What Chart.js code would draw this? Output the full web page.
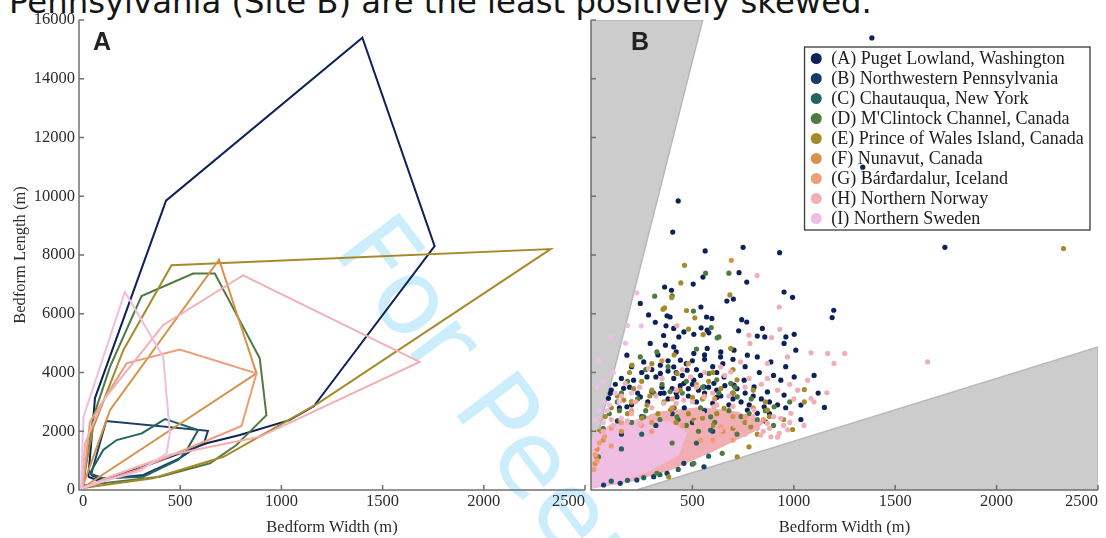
<!DOCTYPE html>
<html>
<head>
<meta charset="utf-8">
<script src="https://cdn.jsdelivr.net/npm/chart.js@4.4.1/dist/chart.umd.min.js"></script>
<style>
  html, body { margin: 0; padding: 0; background: #fff; }
  body { position: relative; width: 1106px; height: 538px; overflow: hidden; }
  #caption { position: absolute; left: 9px; top: -14px; font: 32.3px "DejaVu Sans", sans-serif; line-height: 32.3px; color: #151515; white-space: nowrap; }
  #stamp { position: absolute; left: 331px; top: 162px; font: 105px "DejaVu Sans", sans-serif; line-height: 105px; color: #cbedfc; white-space: nowrap; transform-origin: 0 89px; transform: rotate(53deg); }
  canvas { position: absolute; top: 0; }
  #chartA { left: 0; }
  #chartB { left: 585px; }
  .tag { position: absolute; top: 29px; font: bold 25px "Liberation Sans", Arial, sans-serif; line-height: 25px; color: #222; }
</style>
</head>
<body>
<div id="stamp">For Peer Review</div>
<div id="caption">Pennsylvania (Site B) are the least positively skewed.</div>
<canvas id="chartA" width="600" height="538"></canvas>
<canvas id="chartB" width="521" height="538"></canvas>
<div class="tag" style="left:93px">A</div>
<div class="tag" style="left:631px">B</div>
<script>
'use strict'

// site names + colours (legend order)
const siteNames = [
  '(A) Puget Lowland, Washington',
  '(B) Northwestern Pennsylvania',
  '(C) Chautauqua, New York',
  "(D) M'Clintock Channel, Canada",
  '(E) Prince of Wales Island, Canada',
  '(F) Nunavut, Canada',
  '(G) Bárđardalur, Iceland',
  '(H) Northern Norway',
  '(I) Northern Sweden'
]
const siteColors = ['#0d2259', '#163d69', '#24645f', '#4f7a41', '#a58a2b', '#d8924a', '#ef9c78', '#f2aeb5', '#f0bde3']

const widthTicks = [0, 500, 1000, 1500, 2000, 2500]
const lengthTicks = [0, 2000, 4000, 6000, 8000, 10000, 12000, 14000, 16000]

// panel A: envelope of each site, [width, length] in m
const hullPuget = [[46,450],[79,3130],[430,9850],[1400,15400],[1757,8300],[1160,2850],[1040,2380],[795,1870],[630,1590],[499,1250],[317,790],[153,400],[87,340],[46,450]]
const hullPenn = [[59,510],[134,2346],[637,2016],[620,1643],[497,1077],[318,510],[109,363],[59,510]]
const hullChaut = [[54,567],[120,1360],[186,1700],[310,1928],[425,2414],[589,2040],[532,1360],[490,1020],[317,452],[120,398],[54,567]]
const hullMclintock = [[20,150],[71,2490],[153,4190],[309,6600],[564,7370],[671,7370],[893,4480],[926,2550],[778,1530],[647,910],[400,450],[20,150]]
const hullPrince = [[10,60],[71,2150],[219,4760],[457,7650],[2330,8200],[1181,2950],[714,1130],[366,400],[10,60]]
const hullNunavut = [[15,60],[153,2720],[692,7840],[877,3970],[15,60]]
const hullBard = [[18,70],[54,2320],[235,4310],[498,4780],[877,3970],[803,2180],[285,680],[18,70]]
const hullNorway = [[15,60],[30,1590],[120,3060],[318,4760],[415,5610],[811,7310],[1683,4360],[1140,2610],[893,1810],[449,1190],[153,450],[15,60]]
const hullSweden = [[10,50],[22,2490],[227,6740],[416,4530],[449,1930],[433,1250],[300,640],[120,300],[10,50]]

// panel B: individual bedforms, [width, length] in m
const ptsPuget = [[1385,15390],[1340,10990],[1745,8260],[430,9840],[403,8780],[563,8140],[750,8260],[930,8080],[730,7400],[768,7080],[552,7250],[504,7010],[363,6910],[397,6800],[243,6350],[284,5960],[317,5710],[375,5930],[390,5890],[370,5590],[542,6230],[570,5890],[596,5840],[670,6430],[702,6500],[952,6740],[994,6560],[1197,6120],[1189,5870],[743,5800],[768,5720],[543,5520],[573,5440],[728,5420],[845,5500],[820,5240],[857,5210],[1002,5300],[458,5380],[408,5500],[358,5260],[507,5300],[581,5350],
  [292,4990],[367,4930],[408,4870],[433,5210],[177,4590],[260,4360],[342,4250],[441,4420],[507,4650],[573,4820],[639,4530],[705,4760],[771,4590],[820,4530],[887,4360],[952,4990],[1010,4760],[961,5210],[86,3120],[95,3290],[161,3460],[210,3740],[276,3850],[342,3970],[408,3800],[458,3630],[507,3740],[557,3510],[606,3630],[656,3850],[705,3570],[755,3740],[804,3510],[870,3340],[936,3740],[1002,3850],[952,3230],[1035,2890],[1035,2400],[1151,2810],[820,2610],[854,2830],[771,2720],[424,3170],[342,3290],[243,3170],[177,2830],[474,4080],[408,4190],
  [330,4600],[380,4400],[420,4700],[470,4300],[520,4100],[560,4450],[600,4200],[450,3900],[380,4050],[300,4100],[540,3900],[620,4000],[650,4300],[350,3500],[480,3450],[420,3300],[560,3300],[640,3200],[700,3300],[740,3000],[680,2900],[600,2950],[520,3000],[460,2800],
  [120,3600],[190,3500],[230,3300],[300,3350],[360,3300],[400,3450],[440,3550],[500,3600],[530,3400],[580,3500],[620,3400],[660,3550],[720,3450],[760,3300],[800,3200],[840,3100],[880,3000],[920,2900],[960,2800],[880,2600],[780,2900],[700,3100],[620,3150],[480,3200],[380,3100],[280,3000],[200,2900],[140,2800],[320,3850],[420,4000],[500,4400],[560,4600],[640,4700],[700,4450],[760,4200],[830,4000],[900,3900],[960,4200],[1100,3900],[1120,3300],[250,4000],[200,4200],[150,3800],[100,3400]]
const ptsPenn = [[62,170],[144,228],[226,340],[309,452],[375,568],[458,908],[557,792],[130,2350],[600,2000],[250,2500],[320,2200],[500,2300],[400,2600],[560,2700],[150,1900]]
const ptsChaut = [[100,300],[180,330],[260,420],[340,520],[430,700],[500,880],[580,1150],[520,1600],[430,2400],[250,1900],[150,1400],[590,2040]]
const ptsMclintock = [[565,7380],[680,7380],[314,6600],[400,6610],[505,6090],[593,5530],[622,5180],[243,4530],[325,4700],[631,5210],[581,3970],[689,3630],[721,3170],[260,2490],[424,2490],[590,2490],[903,2830],[862,2320],[647,1250],[507,910],[325,570],[37,1130],[150,3300],[200,3000],[350,3600],[450,3300],[780,2600],[530,2000],[720,1900],[900,2200],[400,1600],
  [90,2600],[140,2700],[200,2300],[270,2700],[340,2400],[410,2800],[470,2200],[540,2800],[610,2300],[680,2700],[740,2500],[820,2400],[860,2700],[130,3000],[230,3100],[310,3300],[390,3350],[470,3700],[550,3500],[630,3300],[710,3500],[790,3100],[180,3700],[270,4100],[380,4200],[520,4800],[620,3750],[60,2100],[980,3000]]
const ptsPrince = [[2330,8220],[461,7650],[443,7050],[398,6550],[355,6150],[363,6200],[471,6110],[512,5860],[685,6640],[481,5480],[553,5290],[689,4820],[202,4250],[424,3970],[161,3060],[276,2890],[392,2720],[144,2380],[656,2780],[507,2380],[788,2150],[994,2060],[1052,3420],[1052,3000],[721,1130],[779,1470],[383,450],[28,1130],[870,2720],[300,3400],[550,3100],[250,3700],[600,2200],[700,3300],
  [100,2800],[180,2600],[250,2450],[330,2600],[420,2300],[480,2600],[550,2450],[620,2600],[700,2100],[760,2300],[820,1900],[880,2500],[950,2400],[130,3200],[210,3450],[290,3200],[360,3000],[440,3400],[500,3150],[580,3700],[640,3450],[720,3750],[800,3400],[860,3000],[190,4000],[300,4300],[410,4600],[600,4000],[700,4100],[70,2500],[40,2000]]
const ptsNunavut = [[692,7820],[30,1400],[60,1700],[20,900],[520,3600],[610,3100],[300,2300],[700,2500],[150,2000],[480,4300],[200,3000],[400,2800],[560,3200],[650,2000],[800,2800],[350,4400]]
const ptsBard = [[57,2320],[67,1810],[40,1600],[20,1200],[15,700],[100,2100],[200,2700],[640,2150],[760,2500],[400,3100],[540,1700],[850,2400],[300,2000],[450,2200],[600,1700],[700,1700],[150,2300],[250,2200],[100,1500],[30,1000]]
const ptsNorway = [[1660,4360],[1251,4650],[1198,4310],[1163,3310],[784,4990],[870,4310],[969,4530],[1085,4670],[1167,4650],[1085,3120],[1019,3400],[1068,3740],[936,2440],[986,2610],[837,1870],[887,1810],[928,1930],[870,2270],[804,2720],[738,2040],[672,1810],[169,3630],[284,4140],[491,3850],[639,4190],[738,4360],[689,4020],[557,3170],[458,3060],[606,2830],[358,2950],[819,7300],[928,6230],[931,5470],[779,5270],[890,5190],[424,5600],[700,2300],[760,2000],[820,2100],[650,2500],[550,2600],[900,2500],[980,2300],[1050,2200],
  [100,2400],[200,2600],[300,2800],[420,2950],[500,3000],[620,2900],[700,2850],[800,2500],[880,2100],[950,2200],[760,1900],
  [60,2000],[110,2200],[180,2350],[240,2250],[300,2500],[380,2600],[450,2500],[520,2300],[580,2200],[640,2050],[710,2200],[780,2300],[850,2000],[920,1800],[970,2050],[220,3000],[320,3200],[420,3400],[520,3500],[600,3300],[680,3200],[760,3500],[840,3600],[920,3400],[1000,3100],[1100,3000],[150,3200],[240,3500],[350,3800],[450,4100],[560,4000],[660,3900],[780,3800],[870,3800],[980,3600]]
const ptsSweden = [[226,6710],[248,5590],[30,3500],[60,3000],[20,2400],[120,3300],[80,2700],[170,5000],[30,1900],[60,2300],[150,2450],[20,1500],[40,2700],[90,2900],[140,3000],[200,3300],[60,3700],[110,4000],[40,4400],[180,5600],[100,5200]]

// dense overlapping clouds near the origin (Norway / Sweden)
const coreNorway = [[0,70],[0,1300],[150,2200],[340,2650],[540,2800],[720,2650],[850,2300],[800,2000],[600,1330],[390,690],[190,300],[0,70]]
const coreSweden = [[0,70],[0,1700],[90,2200],[240,2400],[390,2300],[470,1950],[430,1200],[290,680],[140,280],[0,70]]

// grey wedges in panel B
const wedgeUpper = [[0,950],[551,16000],[0,16000],[0,950]]
const wedgeLower = [[224,0],[2500,4870],[2500,0],[224,0]]

const hulls = [hullPuget, hullPenn, hullChaut, hullMclintock, hullPrince, hullNunavut, hullBard, hullNorway, hullSweden]
const points = [ptsPuget, ptsPenn, ptsChaut, ptsMclintock, ptsPrince, ptsNunavut, ptsBard, ptsNorway, ptsSweden]

const toXY = (arr) => arr.map(([x, y]) => ({x, y}))

const serif = '"Liberation Serif", "Times New Roman", serif'
const textColor = '#2b2b2b'
const axisColor = '#707070'

// axis lines + inward tick marks, drawn on top like the original
const frame = {
  id: 'frame',
  afterDatasetsDraw(chart) {
    const {ctx, chartArea: a, scales} = chart
    ctx.save()
    ctx.strokeStyle = axisColor
    ctx.lineWidth = 1.5
    ctx.beginPath()
    ctx.moveTo(a.left, a.top)
    ctx.lineTo(a.left, a.bottom)
    ctx.lineTo(a.right, a.bottom)
    scales.x.ticks.forEach((t) => {
      const p = scales.x.getPixelForValue(t.value)
      ctx.moveTo(p, a.bottom)
      ctx.lineTo(p, a.bottom - 5)
    })
    scales.y.ticks.forEach((t) => {
      const p = scales.y.getPixelForValue(t.value)
      ctx.moveTo(a.left, p)
      ctx.lineTo(a.left + 5, p)
    })
    ctx.stroke()
    ctx.restore()
  }
}

// boxed legend inside panel B
const legendBox = {
  id: 'legendBox',
  beforeDatasetsDraw(chart) {
    const {ctx, chartArea: a} = chart
    ctx.save()
    ctx.font = '18px ' + serif
    const textW = Math.max(...siteNames.map((n) => ctx.measureText(n).width))
    const w = 27 + textW + 6
    const h = siteNames.length * 20 + 3
    const x = a.right - 8 - w
    const y = a.top + 27
    ctx.fillStyle = '#fff'
    ctx.fillRect(x, y, w, h)
    ctx.strokeStyle = '#3a3a3a'
    ctx.lineWidth = 1.3
    ctx.strokeRect(x, y, w, h)
    siteNames.forEach((name, i) => {
      const cy = y + 11.5 + i * 20
      ctx.fillStyle = siteColors[i]
      ctx.beginPath()
      ctx.arc(x + 11.7, cy, 5.5, 0, Math.PI * 2)
      ctx.fill()
      ctx.fillStyle = '#1e1e1e'
      ctx.textBaseline = 'middle'
      ctx.fillText(name, x + 26.7, cy + 1)
    })
    ctx.restore()
  }
}

const tickFont = {family: serif, size: 16.5}

const xAxis = (showTitle, hideZero) => ({
  type: 'linear',
  min: widthTicks[0],
  max: widthTicks[widthTicks.length - 1],
  afterBuildTicks: (s) => { s.ticks = widthTicks.map((v) => ({value: v})) },
  ticks: {
    align: 'inner',
    padding: 2,
    maxRotation: 0,
    color: textColor,
    font: tickFont,
    callback: (v) => (hideZero && v === 0 ? '' : String(v))
  },
  grid: {display: false, drawTicks: false},
  border: {display: false},
  title: {display: showTitle, text: 'Bedform Width (m)', color: textColor, font: tickFont, padding: {top: 0, bottom: 0}},
  afterFit: (s) => { s.height = 48 }
})

const yAxis = (showLabels, width) => ({
  type: 'linear',
  min: lengthTicks[0],
  max: lengthTicks[lengthTicks.length - 1],
  afterBuildTicks: (s) => { s.ticks = lengthTicks.map((v) => ({value: v})) },
  ticks: {display: showLabels, padding: 4, color: textColor, font: tickFont, callback: (v) => String(v)},
  grid: {display: false, drawTicks: false},
  border: {display: false},
  title: {display: showLabels, text: 'Bedform Length (m)', color: textColor, font: tickFont, padding: {top: 11, bottom: 0}},
  afterFit: (s) => { s.width = width }
})

const baseOptions = {
  responsive: false,
  animation: false,
  plugins: {legend: {display: false}, tooltip: {enabled: false}}
}

// panel A: envelopes
const hullSets = hulls.map((h, i) => ({
  label: siteNames[i],
  data: toXY(h),
  showLine: true,
  borderColor: siteColors[i],
  borderWidth: 2,
  pointRadius: 0,
  tension: 0,
  fill: false,
  order: 20 - i
}))

new Chart(document.getElementById('chartA'), {
  type: 'scatter',
  data: {datasets: hullSets},
  options: {
    ...baseOptions,
    layout: {padding: {top: 20, right: 15, left: 0, bottom: 0}},
    scales: {x: xAxis(true, false), y: yAxis(true, 79)}
  },
  plugins: [frame]
})

// panel B: scatter
const areaSet = (data, color, edge, order) => ({
  data: toXY(data),
  showLine: true,
  borderColor: edge,
  borderWidth: 1.5,
  backgroundColor: color,
  pointRadius: 0,
  tension: 0,
  fill: 'shape',
  order
})

const pointSets = points.map((p, i) => ({
  label: siteNames[i],
  data: toXY(p),
  backgroundColor: siteColors[i],
  borderWidth: 0,
  pointRadius: 2.6,
  order: 20 - i
}))

new Chart(document.getElementById('chartB'), {
  type: 'scatter',
  data: {
    datasets: [
      areaSet(wedgeUpper, '#cccccc', '#b8b8b8', 100),
      areaSet(wedgeLower, '#cccccc', '#b8b8b8', 99),
      areaSet(coreNorway, siteColors[7], siteColors[7], 90),
      areaSet(coreSweden, siteColors[8], siteColors[8], 89),
      ...pointSets
    ]
  },
  options: {
    ...baseOptions,
    layout: {padding: {top: 20, right: 8, left: 0, bottom: 0}},
    scales: {x: xAxis(true, true), y: yAxis(false, 6)}
  },
  plugins: [legendBox, frame]
})
</script>
</body>
</html>
